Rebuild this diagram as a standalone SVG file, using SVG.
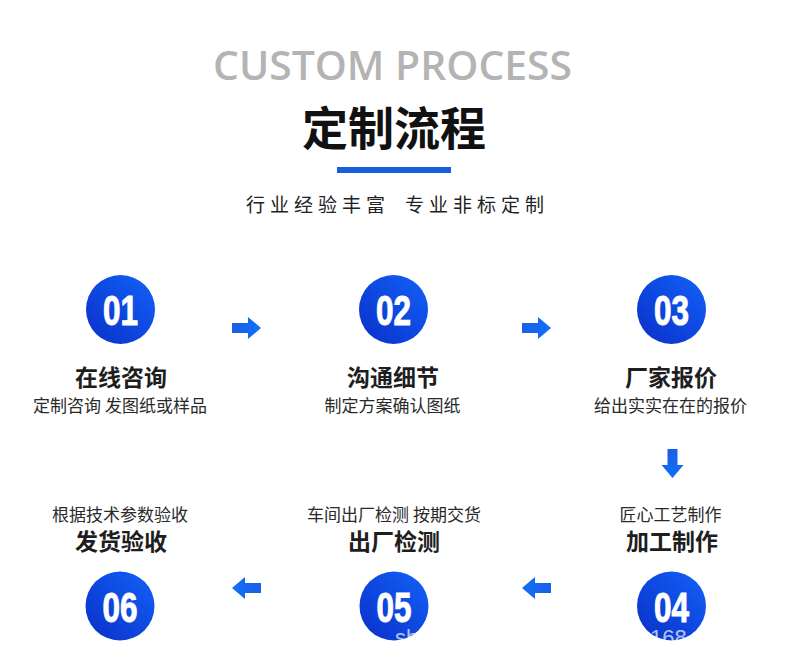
<svg xmlns="http://www.w3.org/2000/svg" width="790" height="666" viewBox="0 0 790 666">
<defs>
<linearGradient id="cg" x1="0" y1="1" x2="1" y2="0">
<stop offset="0" stop-color="#0a2fc8"/>
<stop offset="1" stop-color="#1262f8"/>
</linearGradient>
<linearGradient id="ag" x1="0" y1="0" x2="1" y2="0">
<stop offset="0" stop-color="#1a5fe8"/>
<stop offset="1" stop-color="#1070f5"/>
</linearGradient>
<path id="arR" d="M0,-5 L16,-5 L16,-11 L29,0 L16,11 L16,5 L0,5 Z"/>
</defs>
<style>
.cjk{font-family:"Noto Sans CJK SC","Noto Sans",sans-serif;}
.ttl{font-size:23px;font-weight:700;fill:#1e1e1e;text-anchor:middle;}
.sub{font-size:17px;font-weight:400;fill:#2a2a2a;text-anchor:middle;}
.num{font-family:"Liberation Sans",Arial,sans-serif;font-size:42px;font-weight:700;fill:#fff;stroke:#fff;stroke-width:1;text-anchor:middle;}
.wm{font-family:"Liberation Sans",Arial,sans-serif;font-size:22px;fill:#fff;fill-opacity:0.7;}
.tag{font-size:19px;fill:#222;letter-spacing:5px;}
.arr{fill:url(#ag);}
</style>
<rect width="790" height="666" fill="#fff"/>
<g id="header">
<text x="213" y="80" font-family="'Open Sans','Liberation Sans',sans-serif" font-weight="600" font-size="40" fill="#b4b4b4" textLength="359" lengthAdjust="spacingAndGlyphs">CUSTOM PROCESS</text>
<text class="cjk" x="394" y="145" font-size="46" font-weight="700" fill="#111" text-anchor="middle">定制流程</text>
<rect x="337" y="167" width="114" height="6" fill="#1560d8"/>
<text class="cjk tag" x="246" y="212">行业经验丰富</text>
<text class="cjk tag" x="405" y="212">专业非标定制</text>
</g>
<g id="connectors">
<use href="#arR" class="arr" transform="translate(232,328)"/>
<use href="#arR" class="arr" transform="translate(522,328)"/>
<use href="#arR" class="arr" transform="translate(672.5,449) rotate(90)"/>
<use href="#arR" class="arr" transform="translate(551,588) rotate(180)"/>
<use href="#arR" class="arr" transform="translate(261,588) rotate(180)"/>
</g>
<g id="step01">
<circle cx="120.5" cy="309.5" r="34.5" fill="url(#cg)"/>
<text class="num" x="120.5" y="325" textLength="35" lengthAdjust="spacingAndGlyphs">01</text>
<text class="cjk ttl" x="121" y="386">在线咨询</text>
<text class="cjk sub" x="120" y="412">定制咨询 发图纸或样品</text>
</g>
<g id="step02">
<circle cx="393.5" cy="309.5" r="34.5" fill="url(#cg)"/>
<text class="num" x="393.5" y="325" textLength="35" lengthAdjust="spacingAndGlyphs">02</text>
<text class="cjk ttl" x="393" y="386">沟通细节</text>
<text class="cjk sub" x="392.5" y="412">制定方案确认图纸</text>
</g>
<g id="step03">
<circle cx="671.5" cy="309.5" r="34.5" fill="url(#cg)"/>
<text class="num" x="671.5" y="325" textLength="35" lengthAdjust="spacingAndGlyphs">03</text>
<text class="cjk ttl" x="671" y="386">厂家报价</text>
<text class="cjk sub" x="670.5" y="412">给出实实在在的报价</text>
</g>
<g id="step04">
<circle cx="671.5" cy="606" r="34.5" fill="url(#cg)"/>
<text class="num" x="671.5" y="622" textLength="35" lengthAdjust="spacingAndGlyphs">04</text>
<text class="cjk sub" x="670.5" y="521">匠心工艺制作</text>
<text class="cjk ttl" x="672" y="550">加工制作</text>
<text class="wm" x="650" y="645">168</text>
</g>
<g id="step05">
<circle cx="394" cy="606" r="34.5" fill="url(#cg)"/>
<text class="num" x="394" y="622" textLength="35" lengthAdjust="spacingAndGlyphs">05</text>
<text class="cjk sub" x="394" y="521">车间出厂检测 按期交货</text>
<text class="cjk ttl" x="394" y="550">出厂检测</text>
<text class="wm" x="395" y="645">sh</text>
</g>
<g id="step06">
<circle cx="120" cy="606" r="34.5" fill="url(#cg)"/>
<text class="num" x="120" y="622" textLength="35" lengthAdjust="spacingAndGlyphs">06</text>
<text class="cjk sub" x="120" y="521">根据技术参数验收</text>
<text class="cjk ttl" x="121" y="550">发货验收</text>
</g>
</svg>
